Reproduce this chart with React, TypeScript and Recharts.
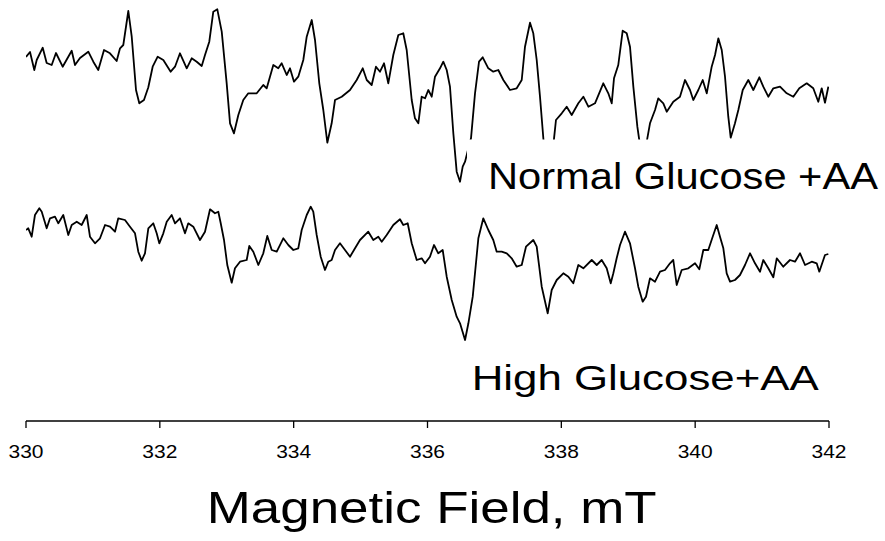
import React from "react";
import { LineChart, Line, XAxis, YAxis } from "recharts";

// Magnetic field (mT) and signal (a.u.)
const topField = [330.000,330.060,330.124,330.160,330.250,330.309,330.384,330.448,330.548,330.683,330.732,330.807,330.931,331.006,331.080,331.166,331.255,331.355,331.405,331.454,331.529,331.580,331.644,331.693,331.763,331.828,331.893,331.968,332.052,332.162,332.227,332.301,332.402,332.476,332.551,332.626,332.675,332.739,332.799,332.859,332.925,332.999,333.049,333.108,333.173,333.247,333.322,333.448,333.546,333.597,333.696,333.770,333.821,333.896,333.945,334.005,334.069,334.144,334.195,334.270,334.319,334.383,334.443,334.503,334.568,334.618,334.718,334.842,334.942,335.032,335.092,335.166,335.230,335.290,335.350,335.414,335.489,335.564,335.638,335.689,335.764,335.813,335.863,335.913,335.963,336.012,336.063,336.112,336.187,336.236,336.287,336.336,336.386,336.436,336.486,336.526,336.561,336.605,336.650,336.710,336.770,336.825,336.909,336.983,337.058,337.133,337.233,337.333,337.408,337.457,337.532,337.581,337.632,337.681,337.731,337.771,337.816,337.861,337.891,337.920,338.006,338.080,338.155,338.254,338.329,338.404,338.503,338.627,338.702,338.753,338.787,338.851,338.917,338.977,339.026,339.076,339.136,339.161,339.206,339.243,339.285,339.325,339.400,339.449,339.524,339.575,339.673,339.773,339.848,339.923,339.972,340.047,340.113,340.173,340.247,340.297,340.346,340.397,340.446,340.495,340.531,340.595,340.645,340.711,340.794,340.869,340.959,341.018,341.093,341.168,341.268,341.368,341.467,341.556,341.667,341.765,341.840,341.891,341.940,341.990];
const topSignal = [364,369,351,361,373.3,358,356,368,354.3,370.3,356,363,369.3,359.3,351,371,367.7,360,372.7,376,410,384.3,331,317.7,321,333.7,354.3,364.3,361,349.3,354.3,367.7,352.7,362.7,359.3,355,366,379.3,409.3,411.7,389.3,337.7,297.7,287.7,306,321,327.7,327.7,336,332.7,356,352.7,357.7,346,352.7,339.3,344.3,361,384.3,401,381,337.7,311,278.3,297.7,321,324.3,331,341,352.7,341,336,354.3,349.3,357.7,337.7,366,386,387.7,371,321,302.7,297.7,324.3,322.7,331,324.3,344.3,352.7,359.3,351,334.3,287.7,249.3,239.3,254.3,259.3,271,282.7,327.7,359.3,363.7,352.7,349.3,351,341,331,332.7,341,374.3,398.3,387.7,361,324.3,282.7,256,246,261,282.7,301,307.7,314.3,306,317.7,324.3,314.3,317.7,337.7,327.7,317.7,342.7,356,390.3,387.7,374.3,334.3,294.3,282.7,263,266,282.7,297.7,311,322.7,317.7,309.3,319.3,324.3,341,331,321,331,341,327.7,354.3,366,382.7,371,344.3,304.3,283.3,297.7,311,331,341,331,343.7,334.3,324.3,332.7,334.3,327.7,324.3,332.7,337.7,332.7,319.3,332.7,318.3,334.3];

const bottomField = [330.000,330.034,330.085,330.134,330.199,330.235,330.309,330.359,330.433,330.483,330.557,330.632,330.683,330.758,330.832,330.907,330.956,331.031,331.106,331.181,331.255,331.330,331.379,331.479,331.554,331.629,331.678,331.729,331.778,331.828,331.902,331.953,331.992,332.052,332.103,332.177,332.227,332.301,332.376,332.425,332.500,332.600,332.675,332.750,332.824,332.874,332.910,332.959,333.008,333.074,333.123,333.198,333.298,333.337,333.397,333.472,333.546,333.606,333.672,333.747,333.845,333.920,333.995,334.069,334.120,334.195,334.255,334.293,334.344,334.404,334.468,334.518,334.568,334.618,334.692,334.767,334.842,334.917,334.991,335.115,335.190,335.265,335.316,335.390,335.489,335.589,335.638,335.704,335.764,335.839,335.913,335.963,336.037,336.097,336.161,336.227,336.287,336.362,336.436,336.486,336.561,336.611,336.676,336.760,336.834,336.909,336.983,337.034,337.109,337.184,337.258,337.333,337.408,337.472,337.581,337.632,337.707,337.796,337.856,337.931,338.030,338.105,338.179,338.254,338.329,338.454,338.529,338.603,338.678,338.738,338.777,338.827,338.877,338.951,339.026,339.101,339.150,339.216,339.265,339.325,339.400,339.475,339.549,339.624,339.673,339.724,339.799,339.898,339.998,340.062,340.122,340.196,340.262,340.322,340.371,340.421,340.471,340.521,340.595,340.670,340.745,340.820,340.894,340.969,341.018,341.093,341.168,341.219,341.317,341.417,341.492,341.567,341.642,341.742,341.816,341.855,341.940,341.990];
const bottomSignal = [191,192.7,184.3,206,212.7,209.3,192.7,202.7,204.3,197.7,206,186,196,199.3,196,206,184.3,177.7,182.7,196,194.3,189.3,202.7,201,194.3,187.7,169.3,160.3,167.7,192.7,197.7,187.7,177.7,187.7,199.3,206,197.7,202.7,187.7,197.7,194.3,181,189.3,211.7,207.7,209.3,197.7,181,156,138.3,152.7,159.3,161,175,169.3,156,167.7,185,171,169.3,182.7,176,171,172.7,191,206,214.3,209.3,186,164.3,151,159.3,161,171,177.7,171,164.3,172.7,181,189.3,181,184.3,179.3,186,196,201.7,196,197.7,177.7,161,162.7,157.7,164.3,176,167.7,171,144.3,121,104.3,97.7,81,97.7,124.3,182.7,202.7,191,181,169.3,169.3,167.7,162.7,154.3,156,174.3,181,174.3,134.3,107.7,131,141,147.7,144.3,137.7,156,152.7,161,156,161,152.7,137.7,147.7,162.7,176,189.3,177.7,152.7,134.3,119.3,124.3,142.7,139.3,149.3,151,157.7,161,136,151,152.7,157.7,151.7,171,171,184.3,196,184.3,172.7,147.7,139.3,141,146,156,167.7,157.7,149.3,161,152.7,143.7,162.7,154.3,161,159.3,167.7,156,159.3,157.7,149.3,166,167];

const xTicks = [330, 332, 334, 336, 338, 340, 342];
const topLabel = "Normal Glucose +AA";
const bottomLabel = "High Glucose+AA";
const xTitle = "Magnetic Field, mT";

const topData = topField.map((f, i) => ({ field: f, signal: topSignal[i] }));
const bottomData = bottomField.map((f, i) => ({ field: f, signal: bottomSignal[i] }));

const FONT = '"Liberation Sans", Arial, Helvetica, sans-serif';

const Tick = (props: any) => {
  const { x, y, payload } = props;
  return (
    <text
      x={x}
      y={y + 28}
      textAnchor="middle"
      fontFamily={FONT}
      fontSize={19}
      fill="#000"
      textLength={35}
      lengthAdjust="spacingAndGlyphs"
    >
      {payload.value}
    </text>
  );
};

export default function App() {
  return (
    <div style={{ position: "absolute", left: 0, top: 0, width: 885, height: 541, background: "#fff" }}>
      <LineChart width={885} height={541} margin={{ top: 0, right: 56, bottom: 0, left: 26 }}>
        <XAxis
          dataKey="field"
          type="number"
          domain={[330, 342]}
          ticks={xTicks}
          allowDataOverflow
          height={120}
          axisLine={{ stroke: "#000", strokeWidth: 1.3 }}
          tickLine={{ stroke: "#000", strokeWidth: 1.3 }}
          tickSize={7}
          tick={<Tick />}
        />
        <YAxis type="number" domain={[0, 421]} hide width={0} />
        <Line
          data={topData}
          dataKey="signal"
          type="linear"
          stroke="#000"
          strokeWidth={1.8}
          strokeLinejoin="round"
          dot={false}
          isAnimationActive={false}
        />
        <Line
          data={bottomData}
          dataKey="signal"
          type="linear"
          stroke="#000"
          strokeWidth={1.8}
          strokeLinejoin="round"
          dot={false}
          isAnimationActive={false}
        />
        <g>
          <text x={471.7} y={390} fontFamily={FONT} fontSize={35} fill="#000" textLength={347} lengthAdjust="spacingAndGlyphs">
            {bottomLabel}
          </text>
          <text x={206.7} y={523.3} fontFamily={FONT} fontSize={45} fill="#000" textLength={450} lengthAdjust="spacingAndGlyphs">
            {xTitle}
          </text>
        </g>
      </LineChart>
      <svg
        width={885}
        height={541}
        style={{ position: "absolute", left: 0, top: 0, pointerEvents: "none" }}
      >
        <rect x={467} y={139.5} width={418} height={62} fill="#fff" />
        <text x={488} y={189.3} fontFamily={FONT} fontSize={36} fill="#000" textLength={390} lengthAdjust="spacingAndGlyphs">
          {topLabel}
        </text>
      </svg>
    </div>
  );
}
